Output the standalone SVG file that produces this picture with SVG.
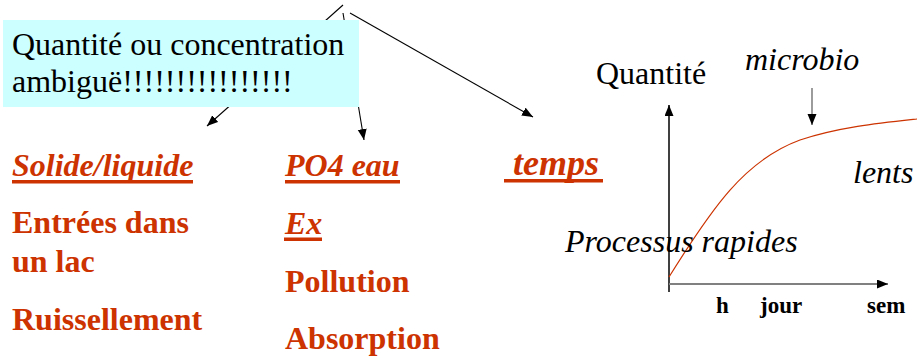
<svg xmlns="http://www.w3.org/2000/svg" width="917" height="358" viewBox="0 0 917 358" font-family="'Liberation Serif', serif">
<style>
.blk{fill:#000;font-size:32px;font-family:"Liberation Serif",serif;}
.it{font-style:italic;}
.or{fill:#cc3300;font-size:32px;font-weight:bold;font-family:"Liberation Serif",serif;}
.big{font-size:36px;}
.ul{fill:#cc3300;}
.ax{font-size:23px;font-weight:bold;fill:#000;font-family:"Liberation Serif",serif;}
.con{stroke:#000;stroke-width:1.1;fill:none;}
</style>
<defs>
<marker id="ah" markerUnits="userSpaceOnUse" markerWidth="12" markerHeight="10" refX="11" refY="4.5" orient="auto">
<path d="M0,0 L11,4.5 L0,9 z" fill="#000"/>
</marker>
</defs>
<rect width="917" height="358" fill="#fff"/>
<g id="connectors">
<line class="con" x1="343" y1="5" x2="207" y2="126" marker-end="url(#ah)"/>
<line class="con" x1="343" y1="13" x2="364" y2="140" marker-end="url(#ah)"/>
<line class="con" x1="350" y1="13" x2="533" y2="117" marker-end="url(#ah)"/>
</g>
<g id="box">
<rect x="3" y="20" width="356" height="87" fill="#ccffff"/>
<text class="blk" x="12" y="55">Quantité ou concentration</text>
<text class="blk" x="12" y="92">ambiguë!!!!!!!!!!!!!!!!</text>
</g>
<g id="solide">
<text class="or it" x="12" y="176">Solide/liquide</text>
<rect class="ul" x="12" y="180" width="181" height="3.5"/>
<text class="or" x="12" y="233">Entrées dans</text>
<text class="or" x="12" y="272">un lac</text>
<text class="or" x="12" y="330">Ruissellement</text>
</g>
<g id="po4">
<text class="or it" x="285" y="176">PO4 eau</text>
<rect class="ul" x="285" y="180" width="115" height="3.5"/>
<text class="or it" x="285" y="234">Ex</text>
<rect class="ul" x="284" y="237.5" width="38" height="3.5"/>
<text class="or" x="285" y="292">Pollution</text>
<text class="or" x="285" y="349">Absorption</text>
</g>
<g id="temps">
<text class="or it big" x="513" y="175">temps</text>
<rect class="ul" x="504" y="179" width="99" height="3.5"/>
</g>
<g id="graph">
<line x1="669" y1="292" x2="669" y2="105" stroke="#000" stroke-width="1.5" marker-end="url(#ah)"/>
<line x1="669" y1="284" x2="888" y2="284" stroke="#808080" stroke-width="2" marker-end="url(#ah)"/>
<line x1="812" y1="88" x2="812" y2="125" stroke="#666" stroke-width="1.3" marker-end="url(#ah)"/>
<path d="M669,277 C712,208 745,160 800,140 C840,127 880,123 917,119" fill="none" stroke="#cc3300" stroke-width="1.2"/>
<text class="blk" x="596" y="84">Quantité</text>
<text class="blk it" x="745" y="70">microbio</text>
<text class="blk it" x="853" y="183">lents</text>
<text class="blk it" x="565" y="252">Processus rapides</text>
<text class="ax" x="716" y="313">h</text>
<text class="ax" x="760" y="313">jour</text>
<text class="ax" x="867" y="313">sem</text>
</g>
</svg>
